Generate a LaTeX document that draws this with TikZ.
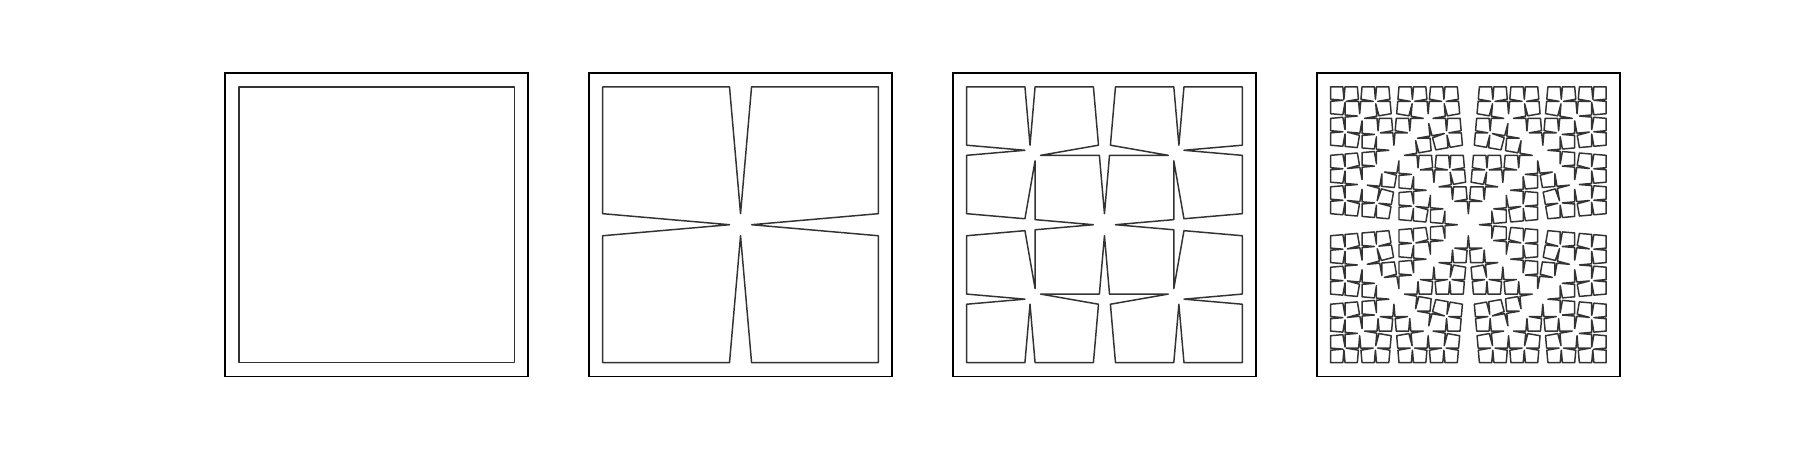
\documentclass[tikz,border=0pt]{standalone}
\usepackage{tikz}
\usepackage{xcolor}
\definecolor{cutgray}{HTML}{333333}
\tikzstyle{axesframe} = [draw=black, line width=0.45pt]
\tikzstyle{cutline} = [draw=cutgray, line width=0.42pt, line join=round]

% notch: half opening and depth, relative to the edge length
\def\kwid{0.04}
\def\kdep{0.46}
% one edge (#2,#3) -> (#4,#5), notched #1 times over
\newcommand\notchseg[5]{%
  \ifnum#1=0
    \expandafter\gdef\expandafter\kpath\expandafter{\kpath(#2,#3) -- }%
  \else
    \begingroup
      \pgfmathsetmacro\kdx{(#4)-(#2)}%
      \pgfmathsetmacro\kdy{(#5)-(#3)}%
      \pgfmathsetmacro\kmx{((#2)+(#4))/2}%
      \pgfmathsetmacro\kmy{((#3)+(#5))/2}%
      \pgfmathsetmacro\kax{\kmx-\kwid*(\kdx)}%
      \pgfmathsetmacro\kay{\kmy-\kwid*(\kdy)}%
      \pgfmathsetmacro\kbx{\kmx+\kwid*(\kdx)}%
      \pgfmathsetmacro\kby{\kmy+\kwid*(\kdy)}%
      \pgfmathsetmacro\ktx{\kmx-\kdep*(\kdy)}%
      \pgfmathsetmacro\kty{\kmy+\kdep*(\kdx)}%
      \pgfmathtruncatemacro\klev{#1-1}%
      \edef\knext{%
        \noexpand\notchseg{\klev}{#2}{#3}{\kax}{\kay}%
        \noexpand\notchseg{\klev}{\kax}{\kay}{\ktx}{\kty}%
        \noexpand\notchseg{\klev}{\ktx}{\kty}{\kbx}{\kby}%
        \noexpand\notchseg{\klev}{\kbx}{\kby}{#4}{#5}}%
    \expandafter\endgroup\knext
  \fi}
% unit square, every edge notched #1 times
\newcommand\kirigami[1]{%
  \gdef\kpath{}%
  \notchseg{#1}{0}{0}{1}{0}%
  \notchseg{#1}{1}{0}{1}{1}%
  \notchseg{#1}{1}{1}{0}{1}%
  \notchseg{#1}{0}{1}{0}{0}%
  \edef\kdo{\noexpand\draw[cutline] \unexpanded\expandafter{\kpath} cycle;}\kdo}

\begin{document}
\begin{tikzpicture}[x=0.01cm, y=-0.01cm]
    % Canvas
    \useasboundingbox[fill=white] (0,0) rectangle (1800,450);
    % Panels: levels 0, 1, 2 and 4
    \foreach \lvl [count=\k from 0] in {0,1,2,4} {
        \coordinate (panel\k) at (376.63+363.91*\k, 224.7);
        \begin{scope}[shift={(panel\k)}]
            \draw[axesframe] (-151.63,-151.63) rectangle (151.63,151.63);
            \begin{scope}[shift={(-137.85,-137.85)}, scale=275.7]
                \kirigami{\lvl}
            \end{scope}
        \end{scope}
    }
\end{tikzpicture}
\end{document}
